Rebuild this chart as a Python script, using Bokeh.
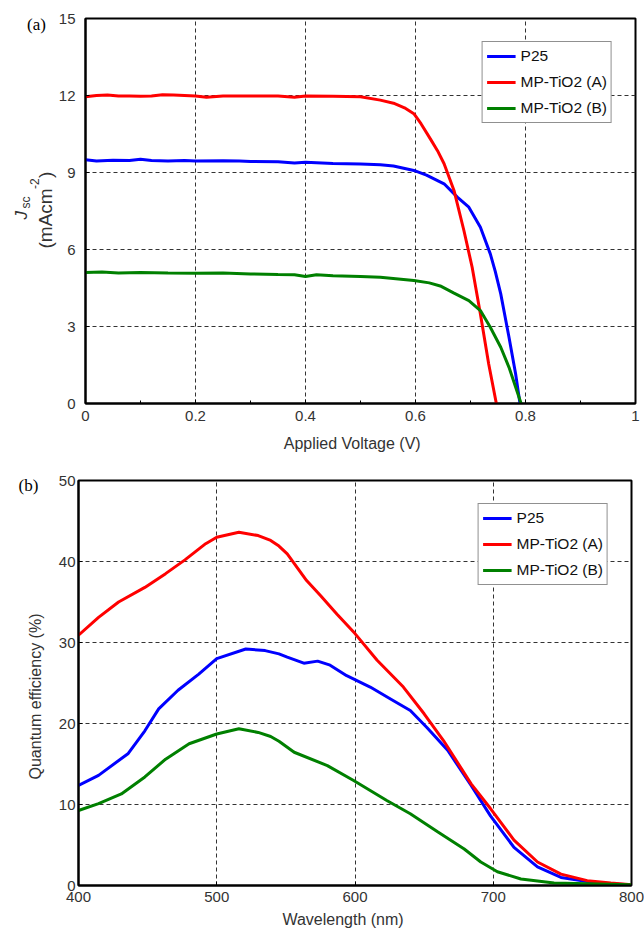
import math
from bokeh.plotting import figure
from bokeh.models import Range1d, FixedTicker, Label, Legend, LegendItem
from bokeh.embed import file_html
from bokeh.resources import INLINE

# ---------------- data: panel (a) J-V curves ----------------
v_p25 = [0, 0.02, 0.05, 0.08, 0.10, 0.12, 0.15, 0.18, 0.20, 0.25, 0.28, 0.30, 0.35, 0.38, 0.40,
         0.45, 0.50, 0.536, 0.56, 0.597, 0.62, 0.652, 0.676, 0.697, 0.718, 0.736, 0.745, 0.755,
         0.770, 0.782, 0.790]
j_p25 = [9.50, 9.45, 9.48, 9.47, 9.52, 9.47, 9.45, 9.47, 9.45, 9.46, 9.45, 9.43, 9.42, 9.37, 9.40,
         9.35, 9.33, 9.30, 9.25, 9.08, 8.90, 8.56, 8.04, 7.65, 6.87, 5.83, 5.15, 4.27,
         2.58, 1.16, 0.0]

v_mpa = [0, 0.02, 0.04, 0.06, 0.08, 0.10, 0.12, 0.14, 0.16, 0.18, 0.20, 0.22, 0.25, 0.30, 0.35,
         0.38, 0.40, 0.45, 0.50, 0.536, 0.56, 0.58, 0.597, 0.61, 0.627, 0.64, 0.652, 0.670,
         0.688, 0.703, 0.718, 0.733, 0.747]
j_mpa = [11.95, 12.00, 12.02, 11.98, 11.98, 11.97, 11.98, 12.03, 12.02, 12.00, 11.98, 11.93, 11.98,
         11.98, 11.98, 11.93, 11.98, 11.97, 11.95, 11.82, 11.70, 11.52, 11.29, 10.90, 10.31, 9.85,
         9.34, 8.30, 6.74, 5.31, 3.49, 1.55, 0.0]

v_mpb = [0, 0.03, 0.06, 0.10, 0.15, 0.20, 0.25, 0.30, 0.35, 0.38, 0.40, 0.42, 0.45, 0.50, 0.536,
         0.597, 0.625, 0.645, 0.670, 0.697, 0.718, 0.736, 0.755, 0.770, 0.782, 0.792]
j_mpb = [5.10, 5.12, 5.08, 5.10, 5.08, 5.07, 5.08, 5.05, 5.03, 5.02, 4.95, 5.02, 4.98, 4.95, 4.92,
         4.79, 4.70, 4.58, 4.30, 4.01, 3.62, 2.97, 2.19, 1.41, 0.64, 0.0]

# ---------------- data: panel (b) quantum efficiency ----------------
wl_p25 = [400, 414.5, 436, 448, 458, 472, 487, 500, 521, 535, 545, 551, 563, 573, 582, 594, 611,
          626, 640, 652, 667, 684, 698, 715, 732, 749, 768, 785, 800]
qe_p25 = [12.35, 13.6, 16.3, 19.1, 21.8, 24.1, 26.1, 28.0, 29.2, 29.0, 28.6, 28.2, 27.45, 27.7,
          27.2, 25.9, 24.5, 23.0, 21.6, 19.5, 16.7, 12.35, 8.6, 4.7, 2.3, 1.0, 0.5, 0.2, 0.1]

wl_mpa = [400, 414.5, 429, 448, 463, 477, 492, 500, 516, 530, 539, 545, 551, 565, 575, 587, 600,
          616, 635, 650, 664, 684, 698, 715, 732, 749, 768, 785, 800]
qe_mpa = [30.9, 33.1, 35.0, 36.8, 38.5, 40.2, 42.2, 43.0, 43.6, 43.2, 42.6, 41.9, 40.95, 37.65,
          35.8, 33.5, 31.1, 27.8, 24.5, 21.2, 17.9, 12.55, 9.5, 5.6, 2.9, 1.4, 0.6, 0.3, 0.1]

wl_mpb = [400, 414.5, 431, 448, 463, 480, 500, 516, 530, 539, 545, 556, 580, 599, 623, 640, 660,
          679, 691, 703, 720, 744, 800]
qe_mpb = [9.26, 10.1, 11.3, 13.4, 15.6, 17.5, 18.7, 19.35, 18.9, 18.4, 17.8, 16.45, 14.8, 12.96,
          10.5, 8.85, 6.6, 4.5, 2.9, 1.7, 0.8, 0.3, 0.1]

names = ["P25", "MP-TiO2 (A)", "MP-TiO2 (B)"]
colors = ["#0000FF", "#FF0000", "#008000"]

a_xticks = [0, 0.2, 0.4, 0.6, 0.8, 1.0]
a_xminor = [0.1, 0.3, 0.5, 0.7, 0.9]
a_yticks = [0, 3, 6, 9, 12, 15]
b_xticks = [400, 500, 600, 700, 800]
b_yticks = [0, 10, 20, 30, 40, 50]

FONT = "Liberation Sans"
SERIF = "Liberation Serif"
TXT = "#333333"
W, H = 644, 928


def style(p, xt, yt, xminor=None, ystand=10, xstand=7):
    p.outline_line_color = "black"
    p.outline_line_width = 2
    p.background_fill_color = "white"
    p.border_fill_color = "white"
    p.xaxis.ticker = FixedTicker(ticks=xt, minor_ticks=xminor or [])
    p.yaxis.ticker = FixedTicker(ticks=yt)
    for ax in (p.xaxis[0], p.yaxis[0]):
        ax.axis_line_color = "black"
        ax.axis_line_width = 2
        ax.major_tick_in = 4
        ax.major_tick_out = 0
        ax.minor_tick_in = 3
        ax.minor_tick_out = 0
        ax.major_tick_line_color = "black"
        ax.minor_tick_line_color = "black"
        ax.major_label_text_font = FONT
        ax.major_label_text_font_size = "15px"
        ax.major_label_text_color = TXT
    p.yaxis.major_label_standoff = ystand
    p.xaxis.major_label_standoff = xstand
    p.grid.grid_line_color = "#333333"
    p.grid.grid_line_dash = "4 3"
    p.grid.grid_line_width = 1


def add_legend(p, rs, margin):
    leg = Legend(items=[LegendItem(label=n, renderers=[r]) for n, r in zip(names, rs)],
                 location="top_right")
    leg.margin = margin
    leg.padding = 4
    leg.spacing = 6
    leg.label_height = 20
    leg.glyph_height = 20
    leg.glyph_width = 29
    leg.label_standoff = 5
    leg.label_text_font = FONT
    leg.label_text_font_size = "15.5px"
    leg.label_text_color = "#111111"
    leg.border_line_color = "#222222"
    leg.border_line_width = 1
    leg.background_fill_alpha = 1.0
    p.add_layout(leg)


# ---------------- panel (a) ----------------
HA = 460
pa = figure(width=W, height=HA, output_backend="svg", toolbar_location=None,
            x_range=Range1d(0, 1), y_range=Range1d(0, 15),
            min_border_left=85, min_border_right=9, min_border_top=18, min_border_bottom=57)
style(pa, a_xticks, a_yticks, a_xminor, ystand=10, xstand=7)
pa.xaxis.major_label_overrides = {0: "0", 1: "1"}

ra = [pa.line(v_p25, j_p25, line_color=colors[0], line_width=3),
      pa.line(v_mpa, j_mpa, line_color=colors[1], line_width=3),
      pa.line(v_mpb, j_mpb, line_color=colors[2], line_width=3)]
add_legend(pa, ra, 23)

# ---------------- panel (b) ----------------
HB = H - HA
pb = figure(width=W, height=HB, output_backend="svg", toolbar_location=None,
            x_range=Range1d(400, 800), y_range=Range1d(0, 50),
            min_border_left=78, min_border_right=13, min_border_top=20, min_border_bottom=43)
style(pb, b_xticks, b_yticks, None, ystand=3, xstand=6)

rb = [pb.line(wl_p25, qe_p25, line_color=colors[0], line_width=3),
      pb.line(wl_mpa, qe_mpa, line_color=colors[1], line_width=3),
      pb.line(wl_mpb, qe_mpb, line_color=colors[2], line_width=3)]
add_legend(pb, rb, 23)

# ---------------- transparent overlay carrying the outside-frame texts ----------------
ov = figure(width=W, height=H, output_backend="svg", toolbar_location=None,
            x_range=Range1d(0, W), y_range=Range1d(0, H),
            x_axis_type=None, y_axis_type=None, min_border=0)
ov.grid.visible = False
ov.outline_line_color = None
ov.background_fill_color = None
ov.border_fill_color = None
ov.styles = {"position": "absolute", "left": "0px", "top": "0px", "pointer-events": "none"}


def lab(px, py, text, size, font=FONT, style_="normal", angle=0.0, align="center",
        baseline="middle", color=TXT):
    # px, py: page pixel position (from top-left)
    ov.add_layout(Label(x=px, y=H - py, text=text, text_font_size=size, text_font=font,
                        text_font_style=style_, angle=angle, text_align=align,
                        text_baseline=baseline, text_color=color))


R = math.pi / 2
lab(36, 24, "(a)", "17px", font=SERIF, color="black")
lab(351.7, 443, "Applied Voltage (V)", "16px")
lab(20.5, 219, "J", "17px", style_="italic", angle=R, align="left", baseline="alphabetic")
lab(25, 208, "sc", "12px", angle=R, align="left", baseline="alphabetic")
lab(45, 248, "(mAcm", "19px", angle=R, align="left", baseline="alphabetic")
lab(33.5, 188.5, "-2", "12px", angle=R, align="left", baseline="alphabetic")
lab(45, 177.5, ")", "19px", angle=R, align="left", baseline="alphabetic")

lab(28, 485, "(b)", "17px", font=SERIF, color="black")
lab(35, 696, "Quantum efficiency (%)", "16px", angle=R)
lab(342.5, 919, "Wavelength (nm)", "16px")

open("out.html", "w").write(file_html([pa, pb, ov], INLINE))
